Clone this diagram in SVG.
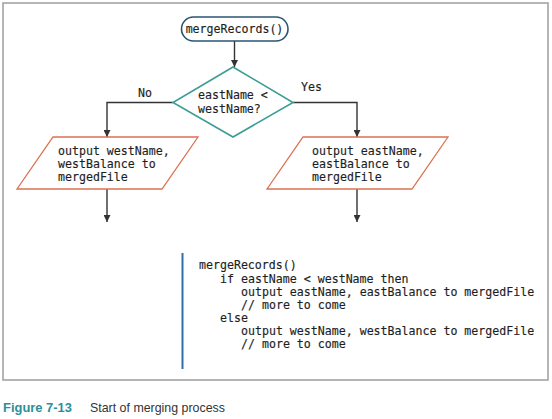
<svg xmlns="http://www.w3.org/2000/svg" width="552" height="419" viewBox="0 0 552 419">
<style>
.t{font-family:"DejaVu Sans Mono","Liberation Mono",monospace;font-size:11.6px;fill:#1e1e1e;stroke:#1e1e1e;stroke-width:0.15}
.ln{stroke:#333;stroke-width:1.4;fill:none}
.io{fill:#fff;stroke:#dc7252;stroke-width:1.3}
.cap{font-family:"Liberation Sans",Arial,sans-serif;font-size:13.5px}
</style>
<defs>
<marker id="ah" viewBox="0 0 10 10" refX="10" refY="5" markerWidth="7" markerHeight="7" markerUnits="userSpaceOnUse" orient="auto">
<path d="M0,0 L10,5 L0,10 z" fill="#333"/>
</marker>
</defs>
<rect x="0" y="0" width="552" height="419" fill="#fff"/>
<rect x="3" y="3" width="545" height="377" fill="#fff" stroke="#a3a3a3" stroke-width="1.6"/>
<g id="connectors">
<line class="ln" x1="234.5" y1="41" x2="234.5" y2="67" marker-end="url(#ah)"/>
<polyline class="ln" points="173,102.5 107,102.5 107,137" marker-end="url(#ah)"/>
<polyline class="ln" points="293,102.5 357,102.5 357,137" marker-end="url(#ah)"/>
<line class="ln" x1="107" y1="189" x2="107" y2="222" marker-end="url(#ah)"/>
<line class="ln" x1="357" y1="189" x2="357" y2="222" marker-end="url(#ah)"/>
<text class="t" x="138" y="97">No</text>
<text class="t" x="301" y="91">Yes</text>
</g>
<g id="start">
<rect x="181.5" y="17" width="106.5" height="24" rx="12" fill="#fff" stroke="#2a5573" stroke-width="1.6"/>
<text class="t" x="234.5" y="33" text-anchor="middle">mergeRecords()</text>
</g>
<g id="decision">
<polygon points="233,67 293,102.5 233,137 173,102.5" fill="#fff" stroke="#3c9d95" stroke-width="1.6"/>
<text class="t" x="198" y="99">eastName &lt;</text>
<text class="t" x="198" y="113">westName?</text>
</g>
<g id="outWest">
<polygon class="io" points="53,137 198,137 162,189 17,189"/>
<text class="t" x="58" y="155">output westName,</text>
<text class="t" x="58" y="168">westBalance to</text>
<text class="t" x="58" y="181">mergedFile</text>
</g>
<g id="outEast">
<polygon class="io" points="303,137 448,137 412,189 267,189"/>
<text class="t" x="312" y="155">output eastName,</text>
<text class="t" x="312" y="168">eastBalance to</text>
<text class="t" x="312" y="181">mergedFile</text>
</g>
<g id="pseudocode">
<line x1="182.5" y1="253" x2="182.5" y2="369" stroke="#2f6ea6" stroke-width="2"/>
<text class="t" x="199" y="269">mergeRecords()</text>
<text class="t" x="220" y="282.5">if eastName &lt; westName then</text>
<text class="t" x="241" y="295.5">output eastName, eastBalance to mergedFile</text>
<text class="t" x="241" y="308.5">// more to come</text>
<text class="t" x="220" y="322">else</text>
<text class="t" x="241" y="335">output westName, westBalance to mergedFile</text>
<text class="t" x="241" y="348">// more to come</text>
</g>
<g id="caption">
<text class="cap" x="3" y="412" fill="#2b8f9c" font-weight="bold" textLength="69" lengthAdjust="spacingAndGlyphs">Figure 7-13</text>
<text class="cap" x="90" y="412" fill="#333" textLength="135" lengthAdjust="spacingAndGlyphs">Start of merging process</text>
</g>
</svg>
